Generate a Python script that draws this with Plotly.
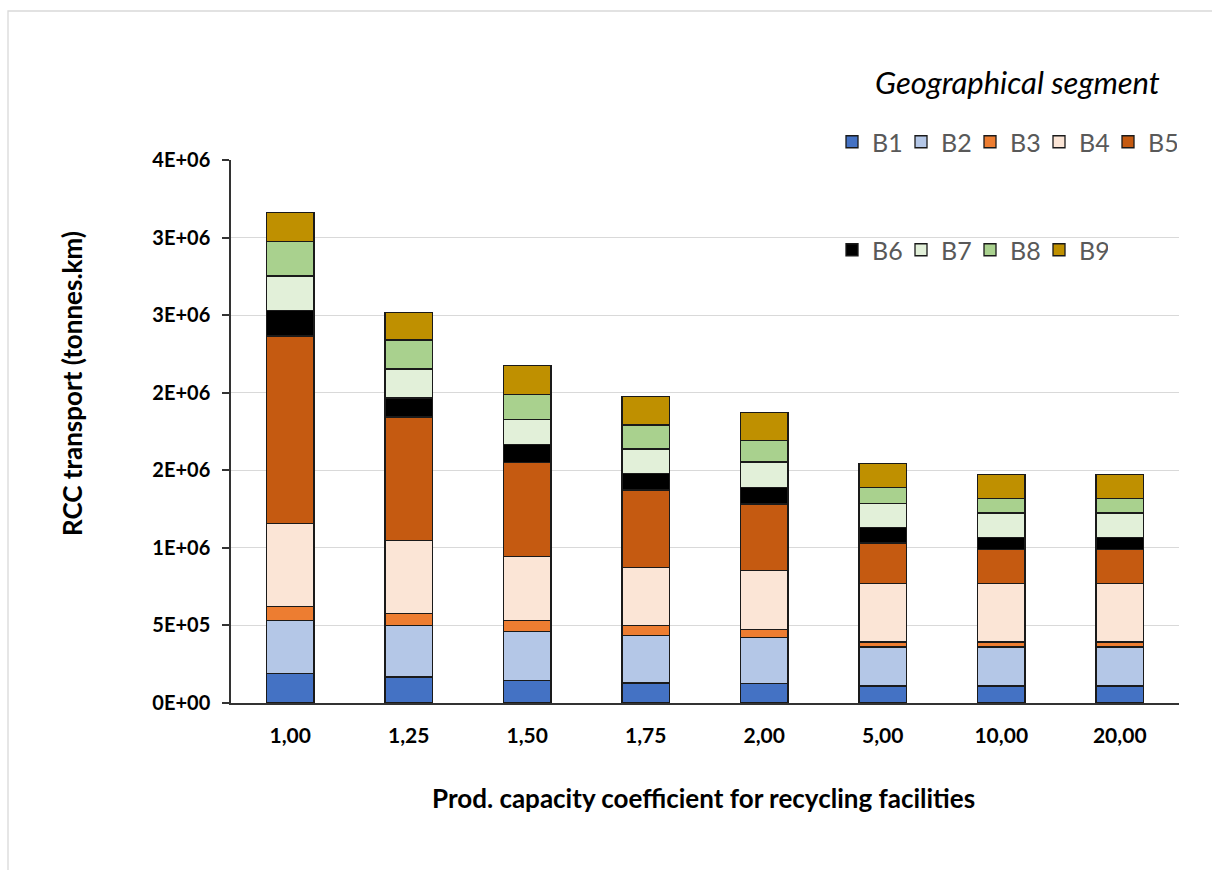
import plotly.graph_objects as go

categories = ["1,00", "1,25", "1,50", "1,75", "2,00", "5,00", "10,00", "20,00"]

B1 = [0.189e6, 0.167e6, 0.146e6, 0.129e6, 0.124e6, 0.109e6, 0.109e6, 0.109e6]
B2 = [0.343e6, 0.331e6, 0.313e6, 0.304e6, 0.297e6, 0.252e6, 0.252e6, 0.252e6]
B3 = [0.090e6, 0.077e6, 0.073e6, 0.065e6, 0.055e6, 0.032e6, 0.032e6, 0.032e6]
B4 = [0.537e6, 0.472e6, 0.412e6, 0.375e6, 0.376e6, 0.377e6, 0.377e6, 0.377e6]
B5 = [1.206e6, 0.796e6, 0.608e6, 0.500e6, 0.431e6, 0.262e6, 0.219e6, 0.219e6]
B6 = [0.167e6, 0.123e6, 0.113e6, 0.106e6, 0.108e6, 0.099e6, 0.078e6, 0.078e6]
B7 = [0.221e6, 0.186e6, 0.161e6, 0.158e6, 0.163e6, 0.157e6, 0.158e6, 0.158e6]
B8 = [0.221e6, 0.187e6, 0.163e6, 0.155e6, 0.137e6, 0.100e6, 0.093e6, 0.093e6]
B9 = [0.187e6, 0.180e6, 0.185e6, 0.182e6, 0.180e6, 0.157e6, 0.156e6, 0.155e6]

series_names = ["B1", "B2", "B3", "B4", "B5", "B6", "B7", "B8", "B9"]
series_values = [B1, B2, B3, B4, B5, B6, B7, B8, B9]
series_colors = ["#4472C4", "#B4C7E7", "#ED7D31", "#FBE5D6", "#C55A11",
                 "#000000", "#E2F0D9", "#A9D18E", "#BF9000"]

y_tickvals = [0, 0.5e6, 1.0e6, 1.5e6, 2.0e6, 2.5e6, 3.0e6, 3.5e6]
y_ticktext = ["0E+00", "5E+05", "1E+06", "2E+06", "2E+06", "3E+06", "3E+06", "4E+06"]

FONT = "Lato, 'Open Sans', sans-serif"

fig = go.Figure()
for i, (name, vals, col) in enumerate(zip(series_names, series_values, series_colors)):
    fig.add_trace(go.Bar(
        x=categories, y=vals, name=name,
        marker=dict(color=col, line=dict(color="#1a1a1a", width=1.3)),
        legend="legend" if i < 5 else "legend2",
    ))

# plot area: x 231..1179, y 160..703
W, H = 1212, 870
L, R, T, B = 231, W - 1179, 160, H - 703
pw, ph = W - L - R, H - T - B

def px(xp):
    return (xp - L) / pw

def py(yp):
    return (H - B - yp) / ph

legend_common = dict(orientation="h", xanchor="left", yanchor="middle",
                     font=dict(size=25, color="#595959", family=FONT),
                     bgcolor="rgba(0,0,0,0)", traceorder="normal",
                     entrywidth=24, entrywidthmode="pixels")

fig.update_layout(
    width=W, height=H,
    margin=dict(l=L, r=R, t=T, b=B, pad=0),
    barmode="stack", bargap=0.6,
    paper_bgcolor="white", plot_bgcolor="white",
    font=dict(family=FONT, color="#000000"),
    legend=dict(x=px(832), y=py(142), **legend_common),
    legend2=dict(x=px(832), y=py(250), **legend_common),
    xaxis=dict(type="category", showline=True, linecolor="#333333", linewidth=1.5,
               ticks="", tickfont=dict(size=21, family=FONT, color="#000000", weight="bold"),
               ticklabelstandoff=13,
               showgrid=False, zeroline=False),
    yaxis=dict(range=[0, 3.5e6], tickvals=y_tickvals, ticktext=y_ticktext,
               showline=True, linecolor="#333333", linewidth=1.5,
               ticks="outside", ticklen=7, tickcolor="#333333", tickwidth=1.5,
               tickfont=dict(size=20, family=FONT, color="#000000", weight="bold"),
               ticklabelstandoff=8,
               showgrid=True, gridcolor="#D9D9D9", gridwidth=1.2, zeroline=False),
    annotations=[
        dict(text="<i>Geographical segment</i>", xref="paper", yref="paper",
             x=px(1162), y=py(82), xanchor="right", yanchor="middle",
             showarrow=False, font=dict(size=31, family=FONT, color="#000000")),
        dict(text="<b>RCC transport (tonnes.km)</b>", xref="paper", yref="paper",
             x=px(72), y=py(384), xanchor="center", yanchor="middle", textangle=-90,
             showarrow=False, font=dict(size=26, family=FONT, color="#000000")),
        dict(text="<b>Prod. capacity coefficient for recycling facilities</b>",
             xref="paper", yref="paper", x=px(703), y=py(798),
             xanchor="center", yanchor="middle",
             showarrow=False, font=dict(size=26, family=FONT, color="#000000")),
    ],
    shapes=[dict(type="rect", xref="paper", yref="paper",
                 x0=px(8), x1=px(1240), y0=py(900), y1=py(11),
                 line=dict(color="#D9D9D9", width=1.3), fillcolor="rgba(0,0,0,0)", layer="below")],
)

fig.write_html("out.html", config={"displayModeBar": False},
               post_script="document.body.style.margin='0';")
